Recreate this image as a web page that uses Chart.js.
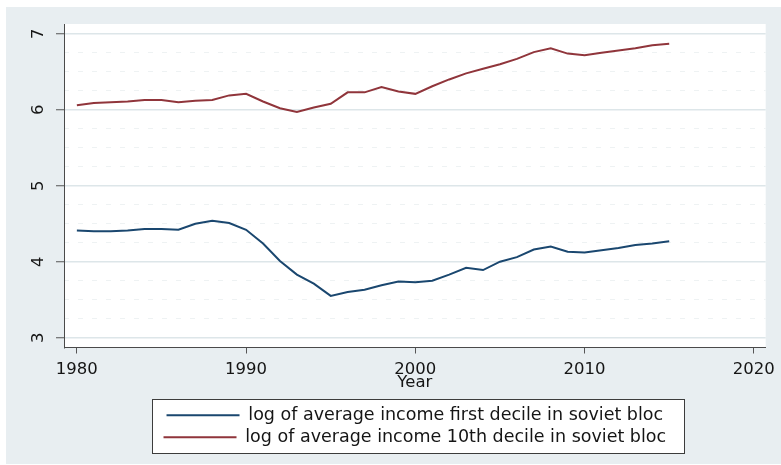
<!DOCTYPE html>
<html>
<head>
<meta charset="utf-8">
<script src="https://cdn.jsdelivr.net/npm/chart.js@4.4.1/dist/chart.umd.min.js"></script>
<style>
  html, body { margin: 0; padding: 0; background: #ffffff; }
  #wrap { width: 781px; height: 465px; }
  canvas { display: block; }
</style>
</head>
<body>
<div id="wrap"><canvas id="c" width="781" height="465"></canvas></div>
<script>
const years = [1980, 1981, 1982, 1983, 1984, 1985, 1986, 1987, 1988, 1989,
               1990, 1991, 1992, 1993, 1994, 1995, 1996, 1997, 1998, 1999,
               2000, 2001, 2002, 2003, 2004, 2005, 2006, 2007, 2008, 2009,
               2010, 2011, 2012, 2013, 2014, 2015];
const firstDecile = [4.41, 4.40, 4.40, 4.41, 4.43, 4.43, 4.42, 4.50, 4.54, 4.51,
                     4.42, 4.24, 4.01, 3.83, 3.71, 3.55, 3.60, 3.63, 3.69, 3.74,
                     3.73, 3.75, 3.83, 3.92, 3.89, 4.00, 4.06, 4.16, 4.20, 4.13,
                     4.12, 4.15, 4.18, 4.22, 4.24, 4.27];
const tenthDecile = [6.06, 6.09, 6.10, 6.11, 6.13, 6.13, 6.10, 6.12, 6.13, 6.19,
                     6.21, 6.11, 6.02, 5.97, 6.03, 6.08, 6.23, 6.23, 6.30, 6.24,
                     6.21, 6.31, 6.40, 6.48, 6.54, 6.60, 6.67, 6.76, 6.81, 6.74,
                     6.72, 6.75, 6.78, 6.81, 6.85, 6.87];
const seriesLabels = ['log of average income first decile in soviet bloc',
                      'log of average income 10th decile in soviet bloc'];
const xTicks = [1980, 1990, 2000, 2010, 2020];
const yTicks = [3, 4, 5, 6, 7];
const yMinorTicks = [3.25, 3.5, 3.75, 4.25, 4.5, 4.75, 5.25, 5.5, 5.75, 6.25, 6.5, 6.75];
const xTitle = 'Year';

const FONT = '"DejaVu Sans", "Liberation Sans", sans-serif';
const TEXT = '#151515';

const backdrop = {
  id: 'backdrop',
  beforeDraw(chart) {
    const {ctx, chartArea: a, legend} = chart;
    ctx.save();
    ctx.fillStyle = '#e8eef1';
    ctx.fillRect(6, 7, chart.width - 6, chart.height - 8);
    ctx.fillStyle = '#ffffff';
    ctx.fillRect(a.left, a.top, a.right - a.left, a.bottom - a.top);
    const hb = legend.legendHitBoxes;
    if (hb && hb.length) {
      const l = Math.round(Math.min(...hb.map(h => h.left)) - 12);
      const r = Math.round(Math.max(...hb.map(h => h.left + h.width)) + 18);
      const t = Math.round(Math.min(...hb.map(h => h.top)) - 8);
      const b = Math.round(Math.max(...hb.map(h => h.top + h.height)) + 7);
      ctx.fillRect(l, t, r - l, b - t);
      ctx.strokeStyle = '#3c3c3c';
      ctx.lineWidth = 1;
      ctx.strokeRect(l + 0.5, t + 0.5, r - l, b - t);
    }
    ctx.restore();
  }
};

new Chart(document.getElementById('c'), {
  type: 'line',
  data: {
    datasets: [
      {
        label: seriesLabels[0],
        data: years.map((y, i) => ({x: y, y: firstDecile[i]})),
        borderColor: '#1a476f',
        backgroundColor: '#1a476f',
        borderWidth: 2,
        pointRadius: 0,
        tension: 0,
        fill: false
      },
      {
        label: seriesLabels[1],
        data: years.map((y, i) => ({x: y, y: tenthDecile[i]})),
        borderColor: '#90353b',
        backgroundColor: '#90353b',
        borderWidth: 2,
        pointRadius: 0,
        tension: 0,
        fill: false
      }
    ]
  },
  options: {
    responsive: false,
    animation: false,
    devicePixelRatio: 1,
    layout: { padding: { left: 0, right: 10, top: 24, bottom: 9 } },
    plugins: {
      legend: {
        position: 'bottom',
        align: 'center',
        fullSize: false,
        labels: {
          font: { family: FONT, size: 17.5 },
          color: TEXT,
          boxWidth: 73,
          boxHeight: 0,
          padding: 4.5
        }
      },
      tooltip: { enabled: false }
    },
    scales: {
      x: {
        type: 'linear',
        min: 1979.24,
        max: 2020.7,
        afterBuildTicks: s => { s.ticks = xTicks.map(v => ({value: v})); },
        afterFit: s => { s.height = 54.5; },
        ticks: {
          font: { family: FONT, size: 16.5 },
          color: TEXT,
          padding: 6,
          maxRotation: 0,
          autoSkip: false,
          callback: v => String(v)
        },
        grid: { drawOnChartArea: false, tickLength: 6, tickColor: '#555555', tickWidth: 1 },
        border: { color: '#4a4a4a', width: 1 },
        title: {
          display: true,
          text: xTitle,
          color: TEXT,
          font: { family: FONT, size: 16.5 },
          padding: { top: 0, bottom: 9 }
        }
      },
      y: {
        type: 'linear',
        position: 'left',
        min: 2.87,
        max: 7.13,
        afterBuildTicks: s => { s.ticks = yTicks.map(v => ({value: v})); },
        afterFit: s => { s.width = 64; },
        ticks: {
          font: { family: FONT, size: 16.5 },
          color: TEXT,
          minRotation: 90,
          maxRotation: 90,
          crossAlign: 'center',
          padding: 12
        },
        grid: { color: '#dde6e9', lineWidth: 1.5, tickLength: 8, tickColor: '#555555', tickWidth: 1 },
        border: { color: '#4a4a4a', width: 1 }
      },
      yMinor: {
        type: 'linear',
        position: 'left',
        min: 2.87,
        max: 7.13,
        afterBuildTicks: s => { s.ticks = yMinorTicks.map(v => ({value: v})); },
        afterFit: s => { s.width = 0; },
        ticks: { display: false },
        grid: { color: '#eef2f3', lineWidth: 1, drawTicks: false },
        border: { display: false, dash: [5, 9] }
      }
    }
  },
  plugins: [backdrop]
});
</script>
</body>
</html>
